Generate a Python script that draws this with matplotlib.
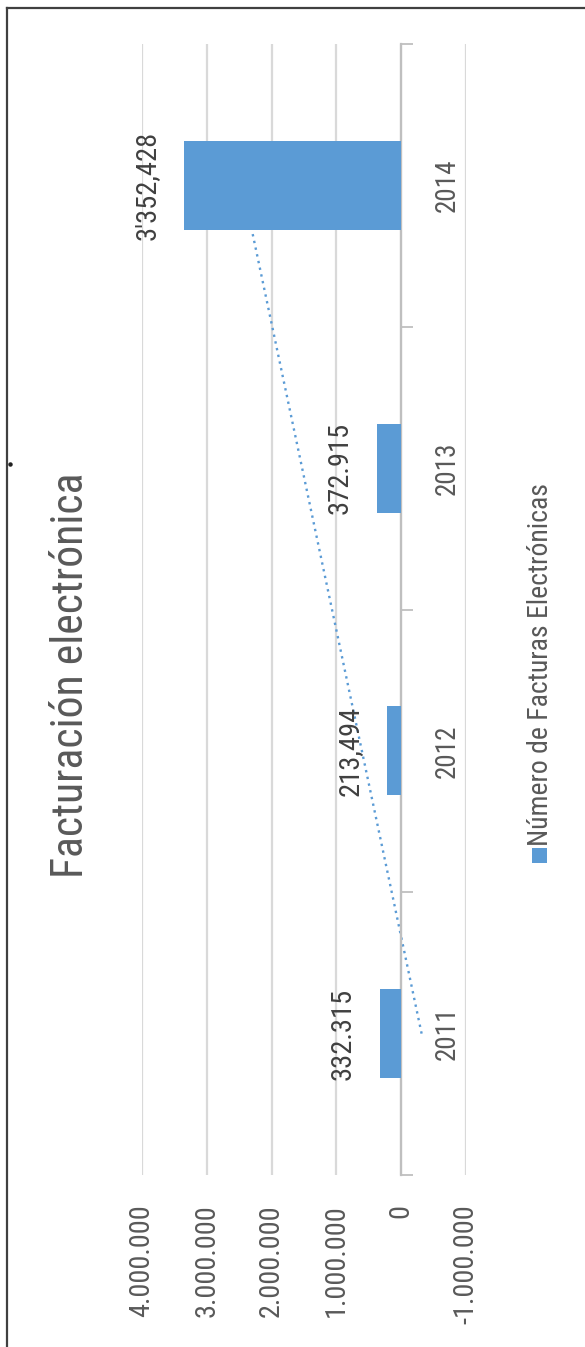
import matplotlib
matplotlib.use("Agg")
import matplotlib.pyplot as plt
from matplotlib import font_manager
from matplotlib.patches import Rectangle
from matplotlib.lines import Line2D
from matplotlib.ticker import FuncFormatter
import numpy as np

# ---- data ----
years = ["2011", "2012", "2013", "2014"]
invoices = [332315, 213494, 372915, 3352428]
invoice_labels = ["332.315", "213,494", "372.915", "3'352,428"]
value_ticks = [-1000000, 0, 1000000, 2000000, 3000000, 4000000]

title = "Facturación electrónica"
series_name = "Número de Facturas Electrónicas"

BLUE = "#5b9bd5"
GRID = "#d9d9d9"
AXIS = "#bfbfbf"
TEXT = "#595959"
LABEL = "#404040"


def pick_font(*names):
    available = {f.name for f in font_manager.fontManager.ttflist}
    for name in names:
        if name in available:
            return name
    return "DejaVu Sans"


NARROW = pick_font("Liberation Sans Narrow", "Roboto Condensed", "Liberation Sans")
plt.rcParams["font.family"] = [NARROW, "DejaVu Sans"]

W, H = 585, 1347
fig = plt.figure(figsize=(W / 100, H / 100), dpi=100)
fig.patch.set_facecolor("white")

# plot area (the chart is laid out turned on its side: categories run bottom->top,
# values grow to the left)
x0, x1, y0, y1 = 142, 466, 44, 1175
ax = fig.add_axes([x0 / W, 1 - y1 / H, (x1 - x0) / W, (y1 - y0) / H])

pos = np.arange(len(years))
ax.barh(pos, invoices, height=0.315, color=BLUE, zorder=3)

# linear trend line, dotted, behind the bars
coef = np.polyfit(pos, invoices, 1)
ax.plot(np.polyval(coef, pos), pos, color=BLUE, lw=1.7,
        linestyle=(0, (1.0, 1.9)), zorder=2)

ax.set_xlim(max(value_ticks), min(value_ticks))
ax.set_ylim(-0.5, len(years) - 0.5)

# value axis
ax.set_xticks(value_ticks)
ax.xaxis.set_major_formatter(
    FuncFormatter(lambda v, p: f"{int(v):,}".replace(",", ".")))
ax.tick_params(axis="x", length=0, pad=21, labelsize=20.3, labelcolor=TEXT,
               labelrotation=90)
for lbl in ax.get_xticklabels():
    lbl.set_verticalalignment("top")
    lbl.set_horizontalalignment("center")
ax.grid(axis="x", color=GRID, lw=1.6, zorder=0)
ax.set_axisbelow(True)

# category axis sits on the zero line
for side in ("left", "top", "bottom"):
    ax.spines[side].set_visible(False)
ax.spines["right"].set_position(("data", 0))
ax.spines["right"].set_color(AXIS)
ax.spines["right"].set_linewidth(1.6)
ax.yaxis.tick_right()
ax.set_yticks(np.arange(len(years) + 1) - 0.5)
ax.set_yticklabels([])
ax.set_yticks(pos, years, minor=True)
ax.tick_params(axis="y", which="major", direction="out", length=8.5,
               width=1.3, color=AXIS)
ax.tick_params(axis="y", which="minor", length=0, pad=23.5, labelsize=19.5,
               labelcolor=TEXT)
for lbl in ax.get_yticklabels(minor=True):
    lbl.set_rotation(90)
    lbl.set_verticalalignment("center")
    lbl.set_horizontalalignment("left")

# data labels just beyond each bar end
for i, (v, txt) in enumerate(zip(invoices, invoice_labels)):
    ax.annotate(txt, xy=(v, i), xytext=(-26.5, 0), textcoords="offset points",
                rotation=90, ha="center", va="center", fontsize=20.5,
                color=LABEL, zorder=4)

# title
fig.text(71 / W, 1 - 675 / H, title, rotation=90, ha="center", va="center",
         fontsize=31.5, color=TEXT)

# legend
fig.add_artist(Rectangle((532 / W, 1 - 863 / H), 15 / W, 15 / H,
                         transform=fig.transFigure, facecolor=BLUE,
                         edgecolor="none"))
fig.text(541 / W, 1 - 846 / H, series_name, rotation=90, ha="center",
         va="bottom", fontsize=20, color=TEXT)

# frame (left and top edges)
fig.add_artist(Line2D([6.5 / W, 6.5 / W], [0, 1 - 7.5 / H],
                      transform=fig.transFigure, color="#404040", lw=1.6))
fig.add_artist(Line2D([6.5 / W, 1], [1 - 7.5 / H, 1 - 7.5 / H],
                      transform=fig.transFigure, color="#404040", lw=1.6))
fig.add_artist(Line2D([10 / W], [1 - 464 / H], transform=fig.transFigure,
                      marker="o", markersize=2.2, color="#202020", lw=0))

fig.savefig("out.png", dpi=100)
